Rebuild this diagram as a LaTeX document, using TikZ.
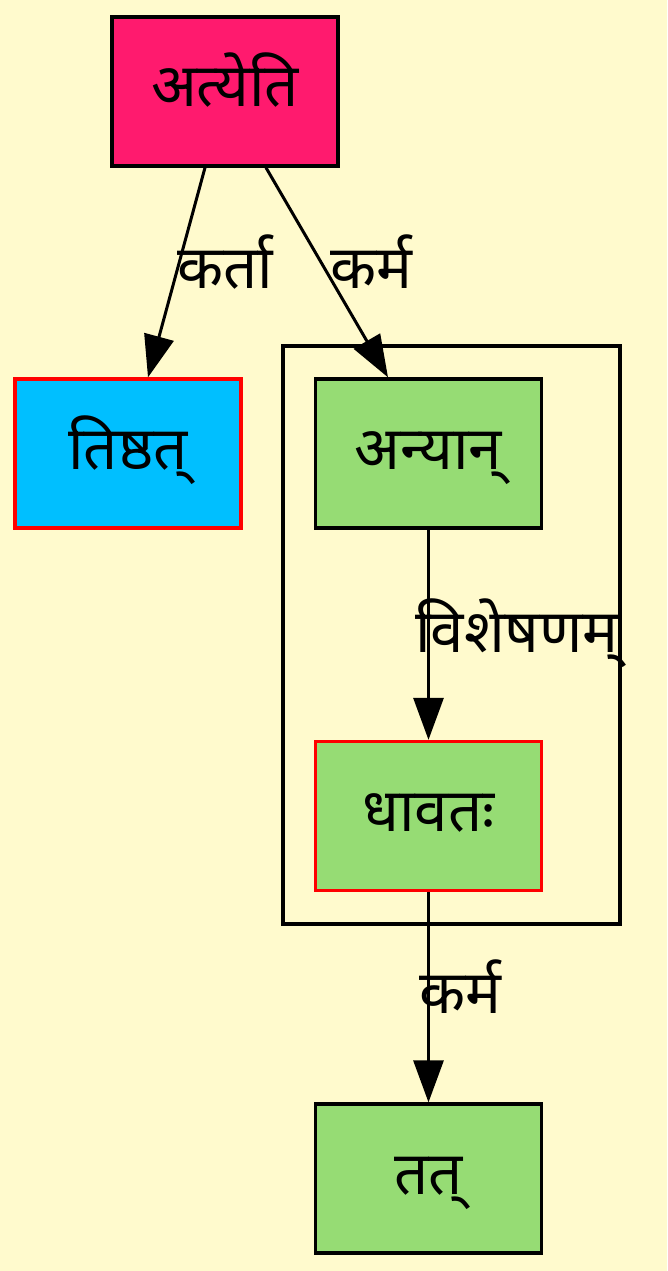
\documentclass[tikz,border=0pt]{standalone}
\usepackage{fontspec}
\newfontfamily\deva[Script=Devanagari]{Noto Sans}
\usetikzlibrary{arrows.meta}
\definecolor{bg}{HTML}{FFFACD}
\definecolor{pinkfill}{HTML}{FF1A6E}
\definecolor{bluefill}{HTML}{00BFFF}
\definecolor{greenfill}{HTML}{96DC74}
\tikzset{
  box/.style={draw=black, line width=3.3pt, minimum width=226pt, minimum height=149pt, inner sep=0pt, text height=31pt, text depth=0pt, font=\deva\fontsize{60}{70}\selectfont},
  redbox/.style={box, draw=red},
  edge/.style={draw=black, line width=3pt, -{Triangle[length=42pt,width=30pt]}},
  elabel/.style={font=\deva\fontsize{60}{70}\selectfont, inner sep=0pt, anchor=base west},
  clusterbox/.style={draw=black, line width=3.3pt}
}
\begin{document}
\begin{tikzpicture}[x=1pt,y=1pt]
\useasboundingbox (0,0) rectangle (667,-1271);
\fill[bg] (0,0) rectangle (667,-1271);
\draw[clusterbox] (283,-346) rectangle (620,-924);
\node[box, fill=pinkfill] (a) at (225,-91.5) {अत्येति};
\node[redbox, fill=bluefill] (b) at (128,-453.5) {तिष्ठत्};
\node[box, fill=greenfill] (c) at (428.5,-453.5) {अन्यान्};
\node[redbox, fill=greenfill] (d) at (428.5,-816) {धावतः};
\node[box, fill=greenfill] (e) at (428.5,-1178.5) {तत्};
\draw[edge] ([xshift=-20pt]a.south) -- ([xshift=20pt]b.north);
\draw[edge] ([xshift=41pt]a.south) -- ([xshift=-40.5pt]c.north);
\draw[edge] (c.south) -- (d.north);
\draw[edge] (d.south) -- (e.north);
\node[elabel] (l1) at (177,-288) {कर्ता};
\node[elabel] (l2) at (330,-288) {कर्म};
\node[elabel] (l3) at (415,-652) {विशेषणम्};
\node[elabel] (l4) at (419,-1013) {कर्म};
\end{tikzpicture}
\end{document}
